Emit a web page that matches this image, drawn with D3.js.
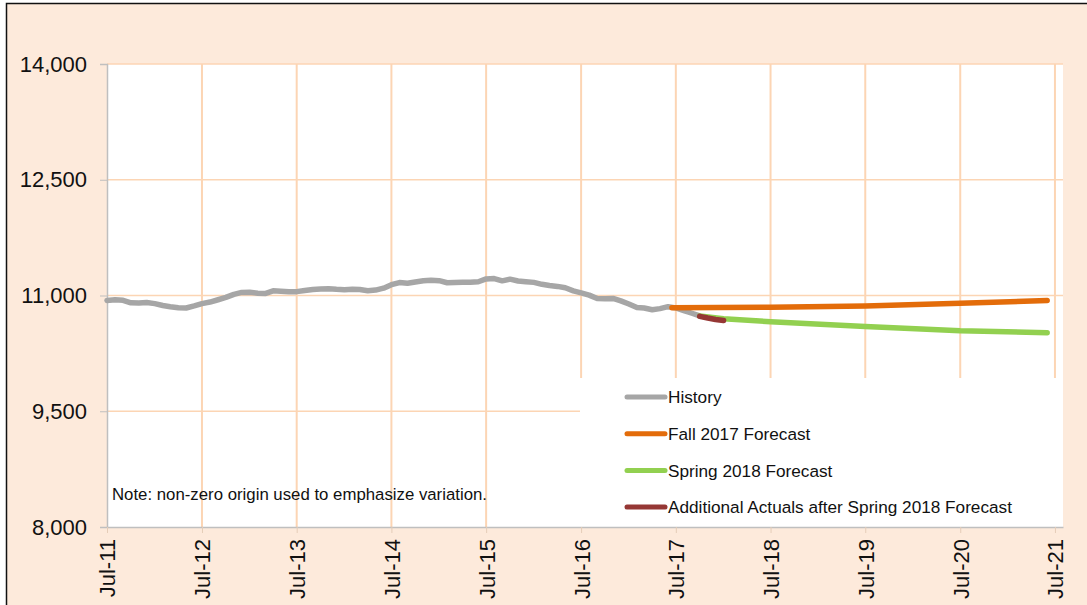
<!DOCTYPE html>
<html lang="en">
  <meta charset="utf-8">
  <style type="text/css">
    body { margin: 0; background: #fff; }
    svg text { font-family: Arial, 'Liberation Sans', sans-serif; fill: #111; }
  </style>
  <script src="https://d3js.org/d3.v7.min.js"></script>
  <body>
    <div id="chart"></div>
    <script type="text/javascript">
      // chart size
      var w = 1087;
      var h = 605;
      var m = {left: 107, right: 24, top: 64, bottom: 78};

      // monthly history, first month Jul-11
      var historyStart = [2011, 6];
      var historyVals = [10935, 10945, 10938, 10905, 10902, 10910, 10895, 10870, 10855, 10842, 10838, 10865,
                         10895, 10915, 10945, 10975, 11015, 11040, 11042, 11030, 11025, 11060, 11055, 11050,
                         11050, 11065, 11078, 11085, 11088, 11080, 11075, 11082, 11078, 11062, 11070, 11095,
                         11140, 11168, 11158, 11175, 11190, 11198, 11192, 11165, 11168, 11172, 11172, 11178,
                         11215, 11220, 11190, 11212, 11188, 11178, 11170, 11145, 11130, 11118, 11100, 11060,
                         11035, 11005, 10960, 10958, 10962, 10930, 10890, 10845, 10838, 10815, 10830, 10855,
                         10840, 10805, 10770, 10735];

      // forecasts: [month offset from Jul-11, value]
      var fallMonths = [71.5, 84, 96, 108, 119];
      var fallVals = [10840, 10848, 10865, 10900, 10935];
      var springMonths = [75, 78, 84, 96, 108, 119];
      var springVals = [10735, 10700, 10660, 10598, 10542, 10518];
      var actualMonths = [75, 76, 77, 78];
      var actualVals = [10730, 10708, 10690, 10675];

      var yTicks = [8000, 9500, 11000, 12500, 14000];
      var xTickYears = d3.range(2011, 2022);
      var legendLabels = ["History", "Fall 2017 Forecast", "Spring 2018 Forecast",
                          "Additional Actuals after Spring 2018 Forecast"];
      var colors = ["#A6A6A6", "#E36C0A", "#92D050", "#953735"];
      var noteText = "Note: non-zero origin used to emphasize variation.";

      function monthDate(k) {
        var d = new Date(historyStart[0], historyStart[1] + Math.floor(k), 1);
        return new Date(d.getTime() + (k - Math.floor(k)) * 30 * 864e5);
      }
      function pairs(ms, vs) { return ms.map((mm, i) => ({d: monthDate(mm), v: vs[i]})); }

      var series = [
        historyVals.map((v, i) => ({d: monthDate(i), v: v})),
        pairs(fallMonths, fallVals),
        pairs(springMonths, springVals),
        pairs(actualMonths, actualVals)
      ];

      var svg = d3.select("#chart").append("svg")
          .attr("width", w)
          .attr("height", h);

      // outer frame
      svg.append("rect")
          .attr("x", 6.5).attr("y", 3.5)
          .attr("width", w + 10).attr("height", h + 10)
          .attr("fill", "#FDEADB")
          .attr("stroke", "#111").attr("stroke-width", 1.5);

      var x = d3.scaleTime()
        .domain([new Date(2011, 6, 1), new Date(2021, 7, 1)])
        .range([m.left, w - m.right]);

      var y = d3.scaleLinear()
        .domain([8000, 14000])
        .range([h - m.bottom, m.top]);

      // plot area
      svg.append("rect")
          .attr("x", m.left).attr("y", m.top)
          .attr("width", w - m.right - m.left)
          .attr("height", h - m.bottom - m.top)
          .attr("fill", "white");

      var xTicks = xTickYears.map((yr) => new Date(yr, 6, 1));

      // grid
      svg.append("g").selectAll("line")
        .data(xTicks.slice(1))
        .enter().append("line")
          .attr("x1", (d) => x(d)).attr("x2", (d) => x(d))
          .attr("y1", m.top).attr("y2", h - m.bottom)
          .attr("stroke", "#FCD5B4").attr("stroke-width", 2);

      svg.append("g").selectAll("line")
        .data(yTicks.slice(1))
        .enter().append("line")
          .attr("x1", m.left).attr("x2", w - m.right)
          .attr("y1", (d) => y(d)).attr("y2", (d) => y(d))
          .attr("stroke", "#FCD5B4").attr("stroke-width", 1.5);

      // legend box sits over the grid
      svg.append("rect")
          .attr("x", 580).attr("y", 378)
          .attr("width", w - m.right - 580)
          .attr("height", h - m.bottom - 378)
          .attr("fill", "white");

      // axes
      var yAxis = svg.append("g")
        .attr("transform", "translate(" + m.left + ",0)")
        .call(d3.axisLeft(y).tickValues(yTicks).tickSize(7).tickPadding(13)
              .tickFormat(d3.format(",")));
      yAxis.select(".domain").attr("stroke", "#BFBFBF").attr("stroke-width", 1.5);
      yAxis.selectAll(".tick line").attr("stroke", "#BFBFBF");
      yAxis.selectAll("text").style("font-size", "22px");

      var xAxis = svg.append("g")
        .attr("transform", "translate(0," + (h - m.bottom) + ")")
        .call(d3.axisBottom(x).tickValues(xTicks).tickSize(6).tickSizeOuter(0)
              .tickFormat(d3.timeFormat("%b-%y")));
      xAxis.select(".domain").attr("stroke", "#BFBFBF").attr("stroke-width", 1.5);
      xAxis.selectAll(".tick line").attr("stroke", "#E5CDB8");
      xAxis.selectAll("text")
          .style("font-size", "22px")
          .attr("transform", "rotate(-90)")
          .attr("x", -12).attr("y", 0).attr("dy", "0.36em")
          .attr("text-anchor", "end");

      // lines
      var line = d3.line().x((d) => x(d.d)).y((d) => y(d.v)).curve(d3.curveLinear);
      var order = [0, 2, 1, 3];
      svg.append("g").selectAll("path")
        .data(order)
        .enter().append("path")
          .attr("d", (i) => line(series[i]))
          .attr("fill", "none")
          .attr("stroke", (i) => colors[i])
          .attr("stroke-width", 5.5)
          .attr("stroke-linecap", "round")
          .attr("stroke-linejoin", "round");

      // legend
      var leg = svg.append("g").selectAll("g")
        .data(legendLabels)
        .enter().append("g")
          .attr("transform", (d, i) => "translate(627," + (397 + i * 36.7) + ")");
      leg.append("line")
          .attr("x1", 0).attr("x2", 38)
          .attr("stroke", (d, i) => colors[i])
          .attr("stroke-width", 5).attr("stroke-linecap", "round");
      leg.append("text")
          .attr("x", 41).attr("dy", "0.36em")
          .style("font-size", "17.2px")
          .text((d) => d);

      svg.append("text")
          .attr("x", 112).attr("y", 500)
          .style("font-size", "16.8px")
          .text(noteText);
    </script>
  </body>
</html>
